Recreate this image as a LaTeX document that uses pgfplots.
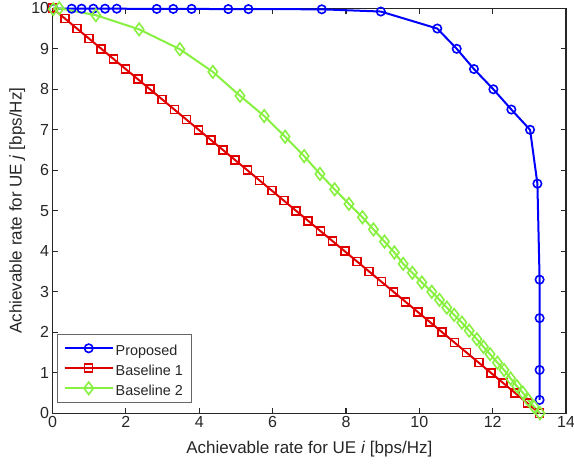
\documentclass[border=0pt]{standalone}
\usepackage{fontspec}
\setmainfont{Liberation Sans}
\usepackage{pgfplots}
\pgfplotsset{compat=1.18}
\definecolor{axgray}{rgb}{0.15,0.15,0.15}
\definecolor{propblue}{rgb}{0,0,1}
\definecolor{baseRed}{HTML}{E00000}
\definecolor{baseGreen}{HTML}{88F040}

\begin{document}
\begin{tikzpicture}
\useasboundingbox (-52.6bp,-56.7bp) rectangle (521.4bp,413.3bp);
\begin{axis}[
  at={(0,0)}, anchor=south west,
  scale only axis, width=513.4bp, height=405bp,
  xmin=0, xmax=14, ymin=0, ymax=10,
  xtick={0,2,...,14}, ytick={0,1,...,10},
  clip=false,
  axis line style={axgray, line width=1.1bp},
  every tick/.style={axgray, line width=1.1bp},
  major tick length=5.5bp,
  tick label style={font=\fontsize{16bp}{19bp}\selectfont, text=axgray},
  /pgf/number format/assume math mode=true,
  label style={font=\fontsize{17bp}{20bp}\selectfont, text=axgray},
  xlabel={Achievable rate for UE \textit{i} [bps/Hz]},
  ylabel={Achievable rate for UE \textit{j} [bps/Hz]},
  xlabel style={at={(axis description cs:0.5,-0.088)}, anchor=center},
  ylabel style={at={(axis description cs:-0.069,0.5)}, anchor=center},
  legend style={at={(axis description cs:0.00915,0.0262)}, anchor=south west,
    draw=axgray!70, line width=0.8bp, text=axgray,
    font=\fontsize{14.4bp}{17bp}\selectfont,
    inner xsep=6bp, inner ysep=4bp, row sep=0pt,
    nodes={inner sep=2bp, text height=15bp, text depth=1bp},
    cells={anchor=west}},
  legend image code/.code={\draw[mark repeat=2, mark phase=2] plot coordinates {(0bp,0bp) (24bp,0bp) (48bp,0bp)};},
]
% Proposed
\addplot[propblue, line width=2bp, mark=o, mark size=4.2bp, mark options={line width=1.6bp}] coordinates {
(0.02,9.99) (0.52,9.99) (0.79,9.99) (1.11,9.99) (1.43,9.99) (1.75,9.99)
(2.84,9.985) (3.29,9.985) (3.79,9.985) (4.79,9.98) (5.34,9.98) (7.34,9.975)
(8.95,9.92) (10.49,9.5) (11.02,9.0) (11.49,8.5) (12.02,8.0) (12.51,7.5)
(13.02,7.0) (13.22,5.67) (13.28,3.3) (13.28,2.35) (13.28,1.07) (13.28,0.33)
};
\addlegendentry{Proposed}
% Baseline 1
\addplot[baseRed, line width=2bp, mark=square, mark size=4bp, mark options={line width=1.6bp}] coordinates {
(0,10) (0.332,9.75) (0.664,9.5) (0.996,9.25) (1.328,9.0) (1.66,8.75)
(1.992,8.5) (2.324,8.25) (2.656,8.0) (2.988,7.75) (3.32,7.5) (3.652,7.25)
(3.984,7.0) (4.316,6.75) (4.648,6.5) (4.98,6.25) (5.312,6.0) (5.644,5.75)
(5.976,5.5) (6.308,5.25) (6.64,5.0) (6.972,4.75) (7.304,4.5) (7.636,4.25)
(7.968,4.0) (8.3,3.75) (8.632,3.5) (8.964,3.25) (9.296,3.0) (9.628,2.75)
(9.96,2.5) (10.292,2.25) (10.624,2.0) (10.956,1.75) (11.288,1.5) (11.62,1.25)
(11.952,1.0) (12.284,0.75) (12.616,0.5) (12.948,0.25) (13.28,0)
};
\addlegendentry{Baseline 1}
% Baseline 2
\addplot[baseGreen, line width=2bp, mark=diamond, mark size=6.2bp, mark options={line width=1.6bp}] coordinates {
(0.02,9.98) (0.18,10.0) (1.18,9.83) (2.36,9.48) (3.47,8.99) (4.37,8.43)
(5.11,7.84) (5.77,7.34) (6.34,6.83) (6.86,6.35) (7.29,5.91) (7.69,5.53)
(8.08,5.17) (8.45,4.84) (8.75,4.54) (9.05,4.24) (9.32,3.97) (9.56,3.69)
(9.81,3.47) (10.07,3.23) (10.34,3.00) (10.55,2.80) (10.75,2.61) (10.95,2.43)
(11.16,2.24) (11.36,2.04) (11.57,1.83) (11.75,1.64) (11.93,1.46) (12.13,1.25)
(12.31,1.07) (12.49,0.86) (12.66,0.67) (12.82,0.51) (12.97,0.33) (13.13,0.16)
(13.29,0)
};
\addlegendentry{Baseline 2}
\end{axis}
\end{tikzpicture}
\end{document}
